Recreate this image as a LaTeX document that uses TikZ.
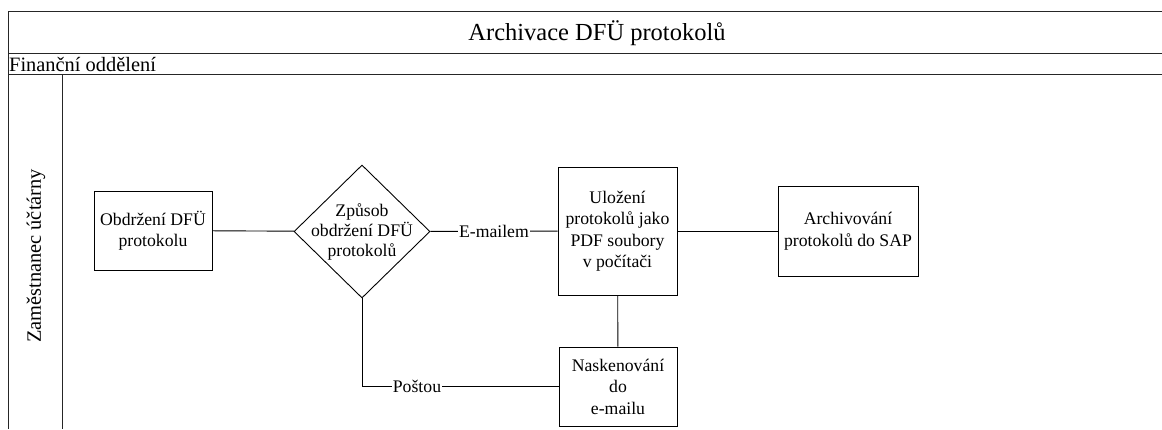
\documentclass[tikz,border=0pt]{standalone}
\usepackage{fontspec}
\setmainfont{Liberation Serif}
\usetikzlibrary{shapes.geometric}

\tikzset{
  lane/.style={line width=1pt, draw=black!85},
  task/.style={draw, line width=0.9pt, rectangle, align=center, inner sep=2pt,
    font=\fontsize{17.7}{21.5}\selectfont},
  decision/.style={draw, line width=0.9pt, diamond, inner sep=0pt},
  flow/.style={line width=0.9pt},
  flowlabel/.style={fill=white, inner sep=1pt, font=\fontsize{17.7}{21.5}\selectfont},
}

\begin{document}
\begin{tikzpicture}[x=1pt, y=-1pt]
  \useasboundingbox (0,0) rectangle (1162,429);

  % pool frame and lanes
  \draw[lane] (1162,11) -- (8,11) -- (8,429);
  \draw[lane] (8,53) -- (1162,53);
  \draw[lane] (8,74) -- (1162,74);
  \draw[lane] (62,74) -- (62,429);

  \node[font=\fontsize{24.5}{28}\selectfont] (pooltitle) at (597,33) {Archivace DFÜ protokolů};
  \node[anchor=west, inner sep=1pt, font=\fontsize{20.4}{24}\selectfont] (dept) at (8,64) {Finanční oddělení};
  \node[rotate=90, font=\fontsize{20.4}{24}\selectfont] (role) at (36,256) {Zaměstnanec účtárny};

  % process steps
  \node[task, minimum width=118pt, minimum height=79pt] (receive) at (153,230.5)
    {Obdržení DFÜ\\protokolu};
  \node[decision, minimum width=136pt, minimum height=133pt] (how) at (362,231.5) {};
  \node[align=center, font=\fontsize{17.7}{20}\selectfont] (howtext) at (how)
    {Způsob\\obdržení DFÜ\\protokolů};
  \node[task, minimum width=119pt, minimum height=128pt] (save) at (617.5,231)
    {Uložení\\protokolů jako\\PDF soubory\\v počítači};
  \node[task, minimum width=140pt, minimum height=90pt] (archive) at (848,231)
    {Archivování\\protokolů do SAP};
  \node[task, minimum width=118pt, minimum height=79pt] (scan) at (618,386.5)
    {Naskenování\\do\\e-mailu};

  % connectors
  \draw[flow] (receive) -- (how);
  \draw[flow] (how) -- node[flowlabel] (lblmail) {E-mailem} (save);
  \draw[flow] (save) -- (archive);
  \draw[flow] (save) -- (scan);
  \draw[flow] (how.south) |- (scan.west);
  \node[flowlabel] (lblpost) at (417,386.5) {Poštou};
\end{tikzpicture}
\end{document}
